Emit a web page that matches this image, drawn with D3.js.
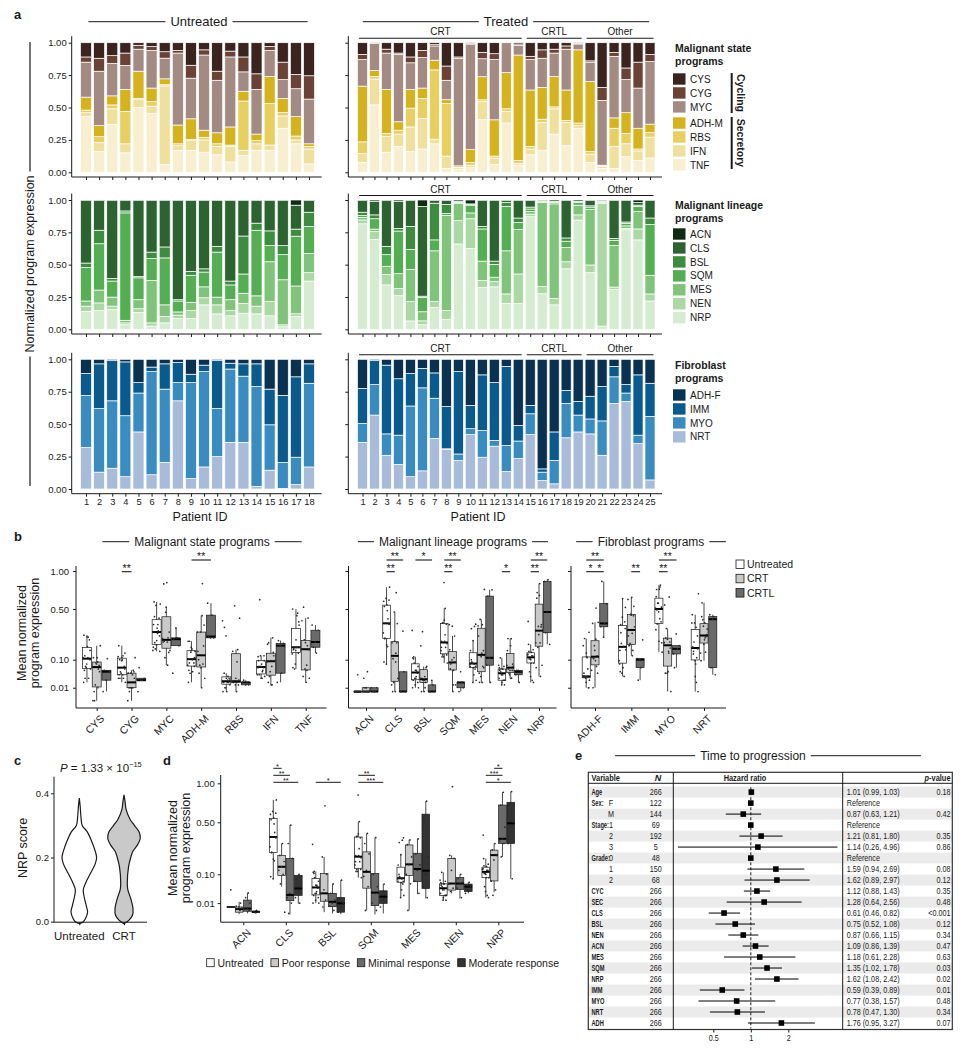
<!DOCTYPE html>
<html>
<head>
<meta charset="utf-8">
<script src="https://cdn.jsdelivr.net/npm/d3@7"></script>
<style>
  body { margin: 0; background: #fff; }
  svg { font-family: "Liberation Sans", Arial, Helvetica, sans-serif; }
</style>
</head>
<body>
<svg id="fig" width="963" height="1050"></svg>
<script>
// ---------------- data ----------------
var stateKeys = ["TNF", "IFN", "RBS", "ADH-M", "MYC", "CYG", "CYS"];   // stacked bottom -> top
var lineageKeys = ["NRP", "NEN", "MES", "SQM", "BSL", "CLS", "ACN"];
var fibroKeys = ["NRT", "MYO", "IMM", "ADH-F"];

var stateUntreated = [
  [.43, .03, .02, .10, .27, .04, .11], [.16, .07, .045, .085, .42, .10, .12], [.37, .12, .03, .07, .25, .06, .10],
  [.15, .07, .25, .17, .185, .095, .08], [.50, .065, .005, .21, .17, .03, .02], [.455, .055, .035, .105, .29, .03, .03],
  [.06, .61, .01, .045, .16, .05, .07], [.17, .035, .015, .145, .555, .02, .06], [.17, .08, .005, .16, .315, .10, .175],
  [.155, .095, .02, .055, .58, .04, .055], [.135, .065, .02, .085, .405, .07, .22], [.08, .12, .01, .14, .54, .045, .065],
  [.13, .04, .38, .075, .15, .115, .11], [.17, .05, .025, .05, .345, .12, .24], [.17, .04, .32, .21, .20, .03, .03],
  [.34, .095, .025, .11, .145, .135, .15], [.22, .03, .03, .15, .215, .11, .245], [.065, .115, .02, .02, .345, .18, .255]
];
var stateTreated = [
  [.075, .07, .09, .43, .205, .04, .09], [.52, .20, .02, .045, .21, .005, 0], [.155, .12, .025, .34, .28, .03, .05],
  [.20, .095, .03, .065, .52, .01, .08], [.16, .19, .145, .145, .205, .045, .11], [.18, .235, .155, .08, .235, .055, .06],
  [.22, .035, .535, .075, .11, .01, .015], [.03, .095, .405, .03, .15, .11, .18], [.02, .015, .005, .01, .83, .01, .11],
  [.035, .02, .02, .10, .81, .01, .005], [.41, .14, .015, .18, .14, .05, .075], [.06, .05, .015, .28, .465, .045, .085],
  [.38, .09, .02, .28, .23, 0, 0], [.055, .015, .02, .815, .075, .01, .01], [.135, .045, .02, .435, .235, .025, .105],
  [.17, .215, .025, .245, .225, .065, .055], [.295, .195, .015, .235, .18, .03, .05], [.205, .18, .015, .235, .315, .025, .025],
  [.34, .02, .02, .565, .045, .005, .005], [.075, .065, .02, .54, .15, .01, .14], [.03, .015, .005, .005, .50, .10, .345],
  [.03, .17, .14, .08, .475, .03, .075], [.12, .10, .08, .16, .255, .09, .195], [.09, .075, .015, .16, .31, .20, .15],
  [.11, .16, .035, .065, .48, .055, .09]
];
var lineageUntreated = [
  [.14, .04, .04, .26, .035, .485, .005], [.145, .06, .10, .36, .105, .23, .005], [.155, .025, .07, .125, .02, .605, .005],
  [.035, .015, .02, .835, .015, .08, .005], [.13, .03, .07, .17, .01, .59, .005], [.025, .025, .33, .17, .05, .40, .005],
  [.05, .05, .09, .365, .085, .36, .005], [.085, .025, .025, .085, .01, .77, .005], [.085, .06, .065, .21, .03, .55, .005],
  [.19, .055, .085, .115, .025, .53, .005], [.12, .07, .06, .35, .045, .355, .005], [.105, .04, .085, .115, .03, .625, .005],
  [.125, .075, .08, .15, .295, .275, .005], [.12, .06, .08, .51, .055, .175, .005], [.105, .11, .31, .125, .115, .235, .005],
  [.02, .015, .35, .195, .07, .35, .005], [.10, .02, .215, .385, .055, .185, .04], [.375, .065, .15, .21, .11, .09, .005]
];
var lineageTreated = [
  [.82, .03, .02, .015, .025, .09, .005], [.695, .06, .02, .08, .03, .105, .01], [.345, .08, .065, .09, .065, .355, .005],
  [.26, .055, .115, .33, .02, .21, .01], [.065, .15, .25, .155, .18, .20, .005], [.035, .03, .07, .11, .01, .69, .05],
  [.17, .045, .395, .085, .285, .02, .005], [.075, .07, .74, .015, .07, .03, .005], [.66, .18, .135, .005, .005, .005, .01],
  [.625, .23, .045, .06, .005, .005, .03], [.325, .055, .15, .25, .02, .20, .005], [.33, .04, .035, .10, .025, .47, .005],
  [.20, .075, .335, .345, .03, .015, .005], [.20, .23, .345, .055, .035, .135, .005], [.875, .02, .02, .02, .015, .05, .005],
  [.275, .055, .65, .005, .005, .005, .005], [.19, .05, .735, .01, .005, .005, .01], [.47, .055, .11, .05, .025, .29, .005],
  [.845, .04, .075, .02, .005, .005, .01], [.44, .06, .43, .02, .01, .04, .005], [.025, .965, .005, .005, .005, .005, .005],
  [.31, .02, .325, .04, .015, .295, .005], [.77, .01, .02, .02, .01, .165, .005], [.695, .085, .135, .04, .01, .02, .02],
  [.22, .055, .145, .395, .05, .135, .005]
];
var fibroUntreated = [
  [.32, .40, .17, .11], [.13, .49, .345, .035], [.16, .52, .31, .01], [.095, .47, .415, .02], [.44, .30, .08, .18],
  [.11, .795, .035, .06], [.205, .565, .195, .035], [.68, .14, .155, .025], [.08, .74, .065, .115], [.17, .735, .05, .045],
  [.25, .37, .37, .01], [.36, .565, .045, .03], [.36, .51, .095, .035], [.02, .77, .175, .035], [.145, .35, .275, .23],
  [.005, .20, .52, .28], [.035, .21, .62, .135], [.17, .645, .15, .035]
];
var fibroTreated = [
  [.36, .145, .27, .225], [.57, .235, .185, .01], [.26, .165, .53, .045], [.19, .225, .435, .15], [.095, .545, .25, .11],
  [.14, .64, .15, .07], [.39, .31, .195, .105], [.305, .005, .325, .365], [.22, .05, .635, .095], [.42, .045, .18, .355],
  [.245, .205, .43, .12], [.33, .045, .445, .18], [.135, .20, .61, .055], [.235, .135, .12, .51], [.42, .16, .065, .355],
  [.065, .065, .025, .845], [.04, .18, .22, .56], [.395, .265, .10, .24], [.44, .13, .105, .325], [.425, .115, .175, .285],
  [.26, .265, .265, .21], [.66, .205, .08, .055], [.675, .065, .065, .195], [.35, .065, .465, .12], [.07, .49, .255, .185]
];
var treatedGroup = ["CRT", "CRT", "CRT", "CRT", "CRT", "CRT", "CRT", "CRT", "CRT", "CRT", "CRT", "CRT", "CRT", "CRT",
  "CRTL", "CRTL", "CRTL", "CRTL", "CRTL", "Other", "Other", "Other", "Other", "Other", "Other"];
var untreatedIds = d3.range(1, 19), treatedIds = d3.range(1, 26);

var stateColors = { "CYS": "#3b2320", "CYG": "#6a4336", "MYC": "#a38b83", "ADH-M": "#d5b31e", "RBS": "#e8cf62", "IFN": "#f0e09d", "TNF": "#f7efd0" };
var lineageColors = { "ACN": "#0f2b13", "CLS": "#2c6331", "BSL": "#3d8c40", "SQM": "#55ae53", "MES": "#80c47b", "NEN": "#abd8a4", "NRP": "#d5ecd1" };
var fibroColors = { "ADH-F": "#0b3151", "IMM": "#0a5a8d", "MYO": "#3a8cc0", "NRT": "#a8bcd9" };

// panel b / d
var stateCats = ["CYS", "CYG", "MYC", "ADH-M", "RBS", "IFN", "TNF"];
var lineageCats = ["ACN", "CLS", "BSL", "SQM", "MES", "NEN", "NRP"];
var fibroCats = ["ADH-F", "IMM", "MYO", "NRT"];
var bGroups = ["Untreated", "CRT", "CRTL"];
var bFill = { "Untreated": "#ffffff", "CRT": "#c9c9c9", "CRTL": "#6a6a6a" };
var sigState = [["CYG", "Untreated", "CRT", 0, "**"], ["ADH-M", "Untreated", "CRTL", 1, "**"]];
var sigLineage = [["CLS", "Untreated", "CRT", 0, "**"], ["CLS", "Untreated", "CRTL", 1, "**"], ["BSL", "Untreated", "CRTL", 1, "*"],
  ["SQM", "Untreated", "CRT", 0, "**"], ["SQM", "Untreated", "CRTL", 1, "**"], ["NEN", "Untreated", "CRT", 0, "*"],
  ["NRP", "Untreated", "CRT", 0, "**"], ["NRP", "Untreated", "CRTL", 1, "**"]];
var sigFibro = [["ADH-F", "Untreated", "CRT", 0, "*"], ["ADH-F", "CRT", "CRTL", 0, "*"], ["ADH-F", "Untreated", "CRTL", 1, "**"],
  ["IMM", "CRT", "CRTL", 0, "**"], ["MYO", "Untreated", "CRT", 0, "**"], ["MYO", "Untreated", "CRTL", 1, "**"]];

var dGroups = ["Untreated", "Poor response", "Minimal response", "Moderate response"];
var dFill = { "Untreated": "#ffffff", "Poor response": "#c9c9c9", "Minimal response": "#6a6a6a", "Moderate response": "#333333" };
// [lo, q1, median, q3, hi] per lineage category (ACN..NRP)
var poorBox = [[.0003, .001, .003, .005, .012], [.05, .095, .139, .21, .30], [.001, .013, .03, .104, .20], [.002, .045, .112, .235, .39],
  [.002, .095, .153, .288, .33], [.03, .039, .061, .19, .21], [.033, .071, .212, .248, .30]];
var minimalBox = [[.0005, .0015, .0035, .015, .031], [.0002, .014, .026, .19, .47], [.0005, .0053, .012, .03, .06], [.0002, .0065, .032, .104, .35],
  [.028, .068, .127, .225, .34], [.018, .041, .061, .085, .10], [.2, .30, .34, .70, .87]];
var moderateBox = [[.0005, .0008, .0012, .0015, .002], [.009, .025, .044, .095, .10], [.0003, .001, .0096, .02, .074], [.0005, .0096, .022, .037, .059],
  [.018, .044, .118, .59, .75], [.03, .035, .05, .059, .065], [.08, .30, .489, .735, .88]];
var poorPts = [[.002, .003, .004, .005, .006, .01], [.30, .21, .17, .14, .12, .10, .06, .001], [.69, .20, .10, .04, .03, .015, .005],
  [.39, .30, .22, .12, .09, .05, .002], [.33, .29, .20, .15, .10, .06, .002], [.95, .21, .19, .12, .06, .045, .035], [.30, .25, .21, .18, .07, .04, .025]];
var minimalPts = [[.031, .02, .01, .004, .003, .002], [.47, .30, .19, .03, .02, .01, .0005], [.06, .03, .015, .01, .006, .002],
  [.35, .10, .05, .03, .01, .002], [.34, .22, .15, .12, .07, .03], [.10, .08, .065, .06, .045, .02], [.87, .70, .45, .34, .32, .30, .20]];
var moderatePts = [[.002, .0015, .001, .0008], [.10, .08, .05, .04, .02, .01], [.074, .02, .01, .005, .001],
  [.059, .035, .025, .015, .005], [.75, .55, .20, .10, .05, .02], [.065, .055, .05, .04, .03], [.88, .70, .50, .45, .30, .08]];
var sigD = [["CLS", "Untreated", "Poor response", 2, "*"], ["CLS", "Untreated", "Minimal response", 1, "**"], ["CLS", "Untreated", "Moderate response", 0, "**"],
  ["BSL", "Untreated", "Moderate response", 0, "*"], ["SQM", "Untreated", "Minimal response", 1, "**"], ["SQM", "Untreated", "Moderate response", 0, "***"],
  ["NRP", "Poor response", "Minimal response", 2, "*"], ["NRP", "Untreated", "Minimal response", 1, "***"], ["NRP", "Untreated", "Moderate response", 0, "*"]];

// panel c: violin density (relative) at NRP score levels
var untreatedLevels = [-0.006, 0, 0.01, 0.03, 0.05, 0.08, 0.10, 0.12, 0.15, 0.18, 0.20, 0.22, 0.25, 0.28, 0.30, 0.33, 0.36, 0.385];
var untreatedDensity = [0, .23, .36, .48, .40, .27, .23, .36, .64, .92, 1, .92, .72, .46, .17, .09, .05, 0];
var crtLevels = [-0.006, 0.005, 0.02, 0.04, 0.07, 0.10, 0.12, 0.17, 0.20, 0.22, 0.24, 0.26, 0.28, 0.30, 0.32, 0.35, 0.375, 0.395];
var crtDensity = [0, .29, .49, .52, .40, .22, .19, .26, .39, .52, .79, .94, .87, .60, .34, .12, .06, 0];

// panel e
var eVar = ["Age", "Sex:", "", "Stage:", "", "", "Grade:", "", "", "CYC", "SEC", "CLS", "BSL", "NEN", "ACN", "MES", "SQM", "NRP", "IMM", "MYO", "NRT", "ADH"];
var eSub = ["", "F", "M", "1", "2", "3", "0", "1", "2", "", "", "", "", "", "", "", "", "", "", "", "", ""];
var eN = [266, 122, 144, 69, 192, 5, 48, 150, 68, 266, 266, 266, 266, 266, 266, 266, 266, 266, 266, 266, 266, 266];
var eHR = [1.01, 1, 0.87, 1, 1.21, 1.14, 1, 1.59, 1.62, 1.12, 1.28, 0.61, 0.75, 0.87, 1.09, 1.18, 1.35, 1.62, 0.59, 0.77, 0.78, 1.76];
var eLo = [0.99, null, 0.63, null, 0.81, 0.26, null, 0.94, 0.89, 0.88, 0.64, 0.46, 0.52, 0.66, 0.86, 0.61, 1.02, 1.08, 0.39, 0.38, 0.47, 0.95];
var eHi = [1.03, null, 1.21, null, 1.80, 4.96, null, 2.69, 2.97, 1.43, 2.56, 0.82, 1.08, 1.15, 1.39, 2.28, 1.78, 2.42, 0.89, 1.57, 1.30, 3.27];
var eP = ["0.18", "", "0.42", "", "0.35", "0.86", "", "0.08", "0.12", "0.35", "0.48", "<0.001", "0.12", "0.34", "0.47", "0.63", "0.03", "0.02", "0.01", "0.48", "0.34", "0.07"];

// ---------------- helpers ----------------
var svg = d3.select("#fig");
var INK = "#1a1a1a";
var NARROW = 0.82;   // horizontal squeeze used for the condensed table font

function label(x, y, s, size, opts) {
  opts = opts || {};
  var t = svg.append("text").attr("font-size", size).attr("fill", INK)
    .attr("text-anchor", opts.anchor || "start").text(s);
  if (opts.bold) t.attr("font-weight", "bold");
  if (opts.narrow) {
    t.attr("x", 0).attr("y", 0).attr("transform", "translate(" + x + "," + y + ") scale(" + opts.narrow + ",1)");
  } else {
    t.attr("x", x).attr("y", y);
    if (opts.rotate) t.attr("transform", "rotate(" + opts.rotate + "," + x + "," + y + ")");
  }
  return t;
}
function hline(x0, x1, y, w) {
  svg.append("line").attr("x1", x0).attr("x2", x1).attr("y1", y).attr("y2", y).attr("stroke", INK).attr("stroke-width", w || 1);
}
function vline(x, y0, y1, w) {
  svg.append("line").attr("x1", x).attr("x2", x).attr("y1", y0).attr("y2", y1).attr("stroke", INK).attr("stroke-width", w || 1);
}
// centred title with rules on each side
function ruleTitle(cx, y, s, size, leftLen, rightLen) {
  var t = label(cx, y + size * 0.35, s, size, { anchor: "middle" });
  var half = t.node().getComputedTextLength() / 2 + 5;
  hline(cx - half - leftLen, cx - half, y);
  hline(cx + half, cx + half + rightLen, y);
}
function normalize(rows) {
  return rows.map(function (r) { var s = d3.sum(r); return r.map(function (v) { return v / s; }); });
}
function styleAxis(g, size) {
  g.select(".domain").remove();
  g.selectAll(".tick line").attr("stroke", INK);
  g.selectAll(".tick text").attr("fill", INK).attr("font-size", size).attr("font-family", null);
}

// ---------------- panel a ----------------
label(14, 19, "a", 13, { bold: true });
var xL = d3.scalePoint().domain(untreatedIds).range([86, 309]);
var xR = d3.scalePoint().domain(treatedIds).range([362.5, 650]);
var bwL = xL.step() * 0.84, bwR = xR.step() * 0.84;

ruleTitle(199, 21.7, "Untreated", 13, 77, 75);
ruleTitle(506, 21.7, "Treated", 13, 116, 116);

var aRows = [
  { keys: stateKeys, U: stateUntreated, T: stateTreated, colors: stateColors, y1: 42.7, y0: 172.3,
    title: ["Malignant state", "programs"] },
  { keys: lineageKeys, U: lineageUntreated, T: lineageTreated, colors: lineageColors, y1: 200, y0: 329.3,
    title: ["Malignant lineage", "programs"] },
  { keys: fibroKeys, U: fibroUntreated, T: fibroTreated, colors: fibroColors, y1: 359.3, y0: 489,
    title: ["Fibroblast", "programs"] }
];

function drawStack(rows, keys, colors, ids, xc, y, bw) {
  var data = normalize(rows).map(function (r, i) {
    var o = { id: ids[i] };
    keys.forEach(function (k, j) { o[k] = r[j]; });
    return o;
  });
  var series = d3.stack().keys(keys)(data);
  svg.append("g").selectAll("g").data(series).join("g")
    .attr("fill", function (d) { return colors[d.key]; })
    .selectAll("rect").data(function (d) { return d; }).join("rect")
    .attr("x", function (d) { return xc(d.data.id) - bw / 2; })
    .attr("width", bw)
    .attr("y", function (d) { return y(d[1]); })
    .attr("height", function (d) { return Math.max(0, y(d[0]) - y(d[1])); })
    .attr("stroke", "#fff").attr("stroke-width", 0.7);
}

aRows.forEach(function (row, ri) {
  var y = d3.scaleLinear().domain([0, 1]).range([row.y0, row.y1]);
  var axisY = row.y0 + 4.7, axisTop = row.y1 - 6.5;
  drawStack(row.U, row.keys, row.colors, untreatedIds, xL, y, bwL);
  drawStack(row.T, row.keys, row.colors, treatedIds, xR, y, bwR);

  // axes
  [[71.7, 321.7, xL, true], [348.3, 662, xR, false]].forEach(function (p) {
    var gy = svg.append("g").attr("transform", "translate(" + p[0] + ",0)")
      .call(d3.axisLeft(y).tickValues([0, .25, .5, .75, 1]).tickSize(3).tickPadding(2)
        .tickFormat(p[3] ? d3.format(".2f") : ""));
    styleAxis(gy, 9.5);
    vline(p[0], axisTop, axisY);
    hline(p[0], p[1], axisY);
    var gx = svg.append("g").attr("transform", "translate(0," + axisY + ")")
      .call(d3.axisBottom(p[2]).tickSize(3).tickPadding(2).tickFormat(ri === 2 ? null : ""));
    styleAxis(gx, 9.3);
  });

  // treatment group brackets
  ["CRT", "CRTL", "Other"].forEach(function (grp) {
    var ids = treatedIds.filter(function (d, i) { return treatedGroup[i] === grp; });
    var x0 = xR(ids[0]) - 3.5, x1 = xR(ids[ids.length - 1]) + 3.5;
    hline(x0, x1, row.y1 - 4.5, 1.1);
    label((x0 + x1) / 2, row.y1 - 7.5, grp, 10, { anchor: "middle" });
  });

  // legend
  var lx = 673;
  var ty = ri === 0 ? 52 : ri === 1 ? 209 : 369;
  label(lx + 2, ty, row.title[0], 10.5, { bold: true });
  label(lx + 2, ty + 13, row.title[1], 10.5, { bold: true });
  var order = row.keys.slice().reverse();
  var first = ri === 0 ? 79 : ri === 1 ? 234 : 395;
  order.forEach(function (k, i) {
    var cy = first + i * 13.95 + (ri === 0 && i >= 3 ? 2.2 : 0);
    svg.append("rect").attr("x", lx).attr("y", cy - 5.7).attr("width", 12.5).attr("height", 11.4).attr("fill", row.colors[k]);
    label(lx + 17, cy + 3.6, k, 10);
  });
});

// Cycling / Secretory brackets
vline(731.7, 73, 113, 2);
vline(731.7, 117, 169, 2);
label(736.5, 93, "Cycling", 10.5, { bold: true, anchor: "middle", rotate: 90 });
label(736.5, 143, "Secretory", 10.5, { bold: true, anchor: "middle", rotate: 90 });

// shared y title of panel a
(function () {
  var cx = 30, cy = 264;
  var t = label(cx + 4, cy, "Normalized program expression", 12.5, { anchor: "middle", rotate: -90 });
  var half = t.node().getComputedTextLength() / 2 + 4;
  vline(cx, 42, cy - half, 1.2);
  vline(cx, cy + half, 486, 1.2);
})();
label(200, 521, "Patient ID", 12.5, { anchor: "middle" });
label(478, 521, "Patient ID", 12.5, { anchor: "middle" });

// ---------------- panel b ----------------
label(14, 541, "b", 13, { bold: true });
var normStateU = normalize(stateUntreated), normStateT = normalize(stateTreated);
var normLinU = normalize(lineageUntreated), normLinT = normalize(lineageTreated);
var normFibU = normalize(fibroUntreated), normFibT = normalize(fibroTreated);

function valuesFor(normU, normT, keys, cat, grp) {
  var j = keys.indexOf(cat);
  if (grp === "Untreated") return normU.map(function (r) { return r[j]; });
  return normT.filter(function (r, i) { return treatedGroup[i] === grp; }).map(function (r) { return r[j]; });
}
function boxStats(v) {
  var s = v.slice().sort(d3.ascending);
  var q1 = d3.quantile(s, .25), med = d3.quantile(s, .5), q3 = d3.quantile(s, .75), iqr = q3 - q1;
  var inside = s.filter(function (d) { return d >= q1 - 1.5 * iqr && d <= q3 + 1.5 * iqr; });
  return { lo: d3.min(inside), q1: q1, med: med, q3: q3, hi: d3.max(inside) };
}
function jitter(i) { return ((i * 0.6180339) % 1) - 0.5; }

function drawBox(cx, bw, st, pts, y, fill) {
  svg.append("line").attr("x1", cx).attr("x2", cx).attr("y1", y(st.lo)).attr("y2", y(st.hi)).attr("stroke", INK).attr("stroke-width", 0.8);
  svg.append("rect").attr("x", cx - bw / 2).attr("width", bw).attr("y", y(st.q3)).attr("height", Math.max(0.5, y(st.q1) - y(st.q3)))
    .attr("fill", fill).attr("stroke", INK).attr("stroke-width", 0.7);
  svg.append("line").attr("x1", cx - bw / 2).attr("x2", cx + bw / 2).attr("y1", y(st.med)).attr("y2", y(st.med))
    .attr("stroke", "#000").attr("stroke-width", 2);
  svg.append("g").selectAll("circle").data(pts).join("circle")
    .attr("cx", function (d, i) { return cx + jitter(i + 1) * bw * 0.9; })
    .attr("cy", function (d) { return y(d); })
    .attr("r", 0.85).attr("fill", "#2a2a2a");
}

var yB = d3.scaleSqrt().domain([0, 1]).range([700.7, 571]);
var bAxisY = 708, bAxisTop = 566;
var bPanels = [
  { cats: stateCats, keys: stateKeys, U: normStateU, T: normStateT, range: [96.7, 305.7], axis: [76, 326.6], half: 15, sig: sigState, labels: true,
    title: "Malignant state programs", tcx: 202, tl: 27 },
  { cats: lineageCats, keys: lineageKeys, U: normLinU, T: normLinT, range: [366, 539], axis: [348.5, 556.5], half: 12.75, sig: sigLineage, labels: false,
    title: "Malignant lineage programs", tcx: 453, tl: 16 },
  { cats: fibroCats, keys: fibroKeys, U: normFibU, T: normFibT, range: [595, 704], axis: [571, 726], half: 13.5, sig: sigFibro, labels: false,
    title: "Fibroblast programs", tcx: 651, tl: 16.5 }
];
bPanels.forEach(function (p) {
  var x = d3.scalePoint().domain(p.cats).range(p.range);
  var dodge = d3.scaleBand().domain(bGroups).range([-p.half, p.half]).padding(0.08);
  var bw = dodge.bandwidth();
  var gc = function (c, g) { return x(c) + dodge(g) + bw / 2; };
  p.cats.forEach(function (c) {
    bGroups.forEach(function (g) {
      var v = valuesFor(p.U, p.T, p.keys, c, g);
      drawBox(gc(c, g), bw, boxStats(v), v, yB, bFill[g]);
    });
  });
  p.sig.forEach(function (s) {
    var ly = yB(1) + 0.7 - s[3] * 11.7;
    var x0 = gc(s[0], s[1]), x1 = gc(s[0], s[2]);
    hline(x0, x1, ly, 1.1);
    label((x0 + x1) / 2, ly + 0.3, s[4], 10.5, { anchor: "middle" });
  });
  var gy = svg.append("g").attr("transform", "translate(" + p.axis[0] + ",0)")
    .call(d3.axisLeft(yB).tickValues([0.01, 0.1, 0.5, 1]).tickSize(3).tickPadding(4)
      .tickFormat(p.labels ? d3.format(".2f") : ""));
  styleAxis(gy, 9.5);
  vline(p.axis[0], bAxisTop, bAxisY);
  hline(p.axis[0], p.axis[1], bAxisY);
  var gx = svg.append("g").attr("transform", "translate(0," + bAxisY + ")")
    .call(d3.axisBottom(x).tickSize(3).tickFormat(""));
  styleAxis(gx, 10);
  p.cats.forEach(function (c) {
    label(x(c) + 3, bAxisY + 6, c, 10.5, { anchor: "end", rotate: -45 }).attr("dy", "0.71em");
  });
  ruleTitle(p.tcx, 541.7, p.title, 12, p.tl, p.tl);
});
label(26, 633, "Mean normalized", 12.5, { anchor: "middle", rotate: -90 });
label(39, 633, "program expression", 12.5, { anchor: "middle", rotate: -90 });
bGroups.forEach(function (g, i) {
  var cy = 564 + i * 14.3;
  svg.append("rect").attr("x", 736).attr("y", cy - 4).attr("width", 8).attr("height", 8.5).attr("fill", bFill[g]).attr("stroke", INK).attr("stroke-width", 0.8);
  label(747, cy + 4, g, 10.5);
});

// ---------------- panel c ----------------
label(14, 765, "c", 13, { bold: true });
var yC = d3.scaleLinear().domain([0, 0.4]).range([921.7, 793.3]);
var xC = d3.scalePoint().domain(["Untreated", "CRT"]).range([79.3, 124]);
var wC = d3.scaleLinear().domain([0, 1]).range([0, 17.3]);
[["Untreated", untreatedLevels, untreatedDensity, "#ffffff"], ["CRT", crtLevels, crtDensity, "#c9c9c9"]].forEach(function (v) {
  var cx = xC(v[0]);
  var pts = v[1].map(function (l, i) { return { v: l, d: v[2][i] }; });
  var area = d3.area().curve(d3.curveCatmullRom)
    .y(function (d) { return yC(d.v); })
    .x0(function (d) { return cx - wC(d.d); })
    .x1(function (d) { return cx + wC(d.d); });
  svg.append("path").attr("d", area(pts)).attr("fill", v[3]).attr("stroke", INK).attr("stroke-width", 1.2);
});
var gyc = svg.append("g").attr("transform", "translate(54,0)")
  .call(d3.axisLeft(yC).tickValues([0, 0.2, 0.4]).tickSize(3).tickPadding(2).tickFormat(d3.format(".1f")));
styleAxis(gyc, 9.5);
vline(54, 776.7, 922.2);
hline(54, 147, 922.2);
var gxc = svg.append("g").attr("transform", "translate(0,922.2)").call(d3.axisBottom(xC).tickSize(3).tickFormat(""));
styleAxis(gxc, 10);
label(xC("Untreated"), 940, "Untreated", 11.5, { anchor: "middle" });
label(xC("CRT"), 940, "CRT", 11.5, { anchor: "middle" });
label(27, 848, "NRP score", 12.5, { anchor: "middle", rotate: -90 });
(function () {
  var t = svg.append("text").attr("x", 60).attr("y", 772).attr("font-size", 11.5).attr("fill", INK);
  t.append("tspan").attr("font-style", "italic").text("P");
  t.append("tspan").text(" = 1.33 × 10");
  t.append("tspan").attr("font-size", 7.5).attr("dy", -5).text("−15");
})();

// ---------------- panel d ----------------
label(163, 765, "d", 13, { bold: true });
var yD = d3.scaleSqrt().domain([0, 1]).range([916.4, 783.3]);
var xD = d3.scalePoint().domain(lineageCats).range([243.3, 498.3]);
var dodgeD = d3.scaleBand().domain(dGroups).range([-17, 17]).padding(0.08);
var bwD = dodgeD.bandwidth();
function dcx(c, g) { return xD(c) + dodgeD(g) + bwD / 2; }
var dBox = { "Poor response": poorBox, "Minimal response": minimalBox, "Moderate response": moderateBox };
var dPts = { "Poor response": poorPts, "Minimal response": minimalPts, "Moderate response": moderatePts };
lineageCats.forEach(function (c, ci) {
  dGroups.forEach(function (g) {
    var st, pts;
    if (g === "Untreated") {
      pts = valuesFor(normLinU, normLinT, lineageKeys, c, g);
      st = boxStats(pts);
    } else {
      var b = dBox[g][ci];
      st = { lo: b[0], q1: b[1], med: b[2], q3: b[3], hi: b[4] };
      pts = dPts[g][ci];
    }
    drawBox(dcx(c, g), bwD, st, pts, yD, dFill[g]);
  });
});
sigD.forEach(function (s) {
  var ly = yD(1) - 1 - s[3] * 7;
  var x0 = dcx(s[0], s[1]), x1 = dcx(s[0], s[2]);
  hline(x0, x1, ly, 1);
  label((x0 + x1) / 2, ly + 1, s[4], 7.5, { anchor: "middle" });
});
var gyd = svg.append("g").attr("transform", "translate(220.7,0)")
  .call(d3.axisLeft(yD).tickValues([0.01, 0.1, 0.5, 1]).tickSize(3).tickPadding(3).tickFormat(d3.format(".2f")));
styleAxis(gyd, 9.5);
vline(220.7, 775, 922.2);
hline(220.7, 524, 922.2);
var gxd = svg.append("g").attr("transform", "translate(0,922.2)").call(d3.axisBottom(xD).tickSize(3).tickFormat(""));
styleAxis(gxd, 10);
lineageCats.forEach(function (c) {
  label(xD(c) + 3, 928, c, 10.5, { anchor: "end", rotate: -45 }).attr("dy", "0.71em");
});
label(177, 848, "Mean normalized", 12.5, { anchor: "middle", rotate: -90 });
label(190, 848, "program expression", 12.5, { anchor: "middle", rotate: -90 });
(function () {
  var x = 206.7;
  dGroups.forEach(function (g) {
    svg.append("rect").attr("x", x).attr("y", 958.7).attr("width", 7.5).attr("height", 8).attr("fill", dFill[g]).attr("stroke", INK).attr("stroke-width", 0.8);
    var t = label(x + 10.8, 966.5, g, 10.5);
    x += 10.8 + t.node().getComputedTextLength() + 7.3;
  });
})();

// ---------------- panel e ----------------
label(575, 760, "e", 13, { bold: true });
ruleTitle(753, 755.7, "Time to progression", 12, 80, 110);
var eL = 588.3, eR = 952.3, eTop = 772.3, eBot = 1029.5, eHead = 783.3;
var rowY = d3.scaleBand().domain(d3.range(eVar.length)).range([eHead + 3.3, eBot - 1]);
var xHR = d3.scaleLog().domain([0.5, 2]).range([713.3, 788.3]);
svg.append("g").selectAll("rect").data(d3.range(eVar.length).filter(function (i) { return i % 2 === 0; })).join("rect")
  .attr("x", eL).attr("width", eR - eL).attr("y", function (i) { return rowY(i); }).attr("height", rowY.bandwidth())
  .attr("fill", "#ebebeb");
svg.append("rect").attr("x", eL).attr("y", eTop).attr("width", eR - eL).attr("height", eBot - eTop)
  .attr("fill", "none").attr("stroke", "#333").attr("stroke-width", 1.2);
hline(eL, eR, eHead, 1);
vline(673.3, eTop, eBot, 1);
vline(842.7, eTop, eBot, 1);
label(591.5, 781, "Variable", 9.5, { bold: true, narrow: 0.78 });
label(658, 781, "N", 9, { bold: true, anchor: "middle" }).attr("font-style", "italic");
label(745, 781, "Hazard ratio", 9.5, { bold: true, anchor: "middle", narrow: 0.78 });
(function () {
  var t = label(950.5, 781, "", 9.5, { bold: true, anchor: "end", narrow: 0.78 });
  t.append("tspan").attr("font-style", "italic").text("p");
  t.append("tspan").text("-value");
})();
svg.append("line").attr("x1", xHR(1)).attr("x2", xHR(1)).attr("y1", eHead + 4).attr("y2", eBot - 1)
  .attr("stroke", "#333").attr("stroke-width", 1.1).attr("stroke-dasharray", "3,2");
var fmt = d3.format(".2f");
eVar.forEach(function (v, i) {
  var cy = rowY(i) + rowY.bandwidth() / 2, by = cy + 3.1;
  if (v) label(591.5, by, v, 8.4, { bold: true, narrow: 0.68 });
  if (eSub[i]) label(611, by, eSub[i], 8.8, { anchor: "middle", narrow: NARROW });
  label(655.7, by, eN[i], 8.8, { anchor: "middle", narrow: NARROW });
  if (eLo[i] !== null) {
    svg.append("line").attr("x1", xHR(eLo[i])).attr("x2", xHR(eHi[i])).attr("y1", cy).attr("y2", cy).attr("stroke", "#000").attr("stroke-width", 1);
    label(846.7, by, fmt(eHR[i]) + " (" + fmt(eLo[i]) + ", " + fmt(eHi[i]) + ")", 8.8, { narrow: NARROW });
  } else {
    label(846.7, by, "Reference", 8.8, { narrow: NARROW });
  }
  svg.append("rect").attr("x", xHR(eHR[i]) - 2.8).attr("y", cy - 2.8).attr("width", 5.6).attr("height", 5.6).attr("fill", "#000");
  if (eP[i]) label(950.5, by, eP[i], 8.8, { anchor: "end", narrow: NARROW });
});
var gxe = svg.append("g").attr("transform", "translate(0," + eBot + ")")
  .call(d3.axisBottom(xHR).tickValues([0.5, 1, 2]).tickSize(3).tickPadding(2).tickFormat(d3.format("")));
styleAxis(gxe, 8.8);
gxe.selectAll(".tick text").attr("transform", "scale(" + NARROW + ",1)");
</script>
</body>
</html>
